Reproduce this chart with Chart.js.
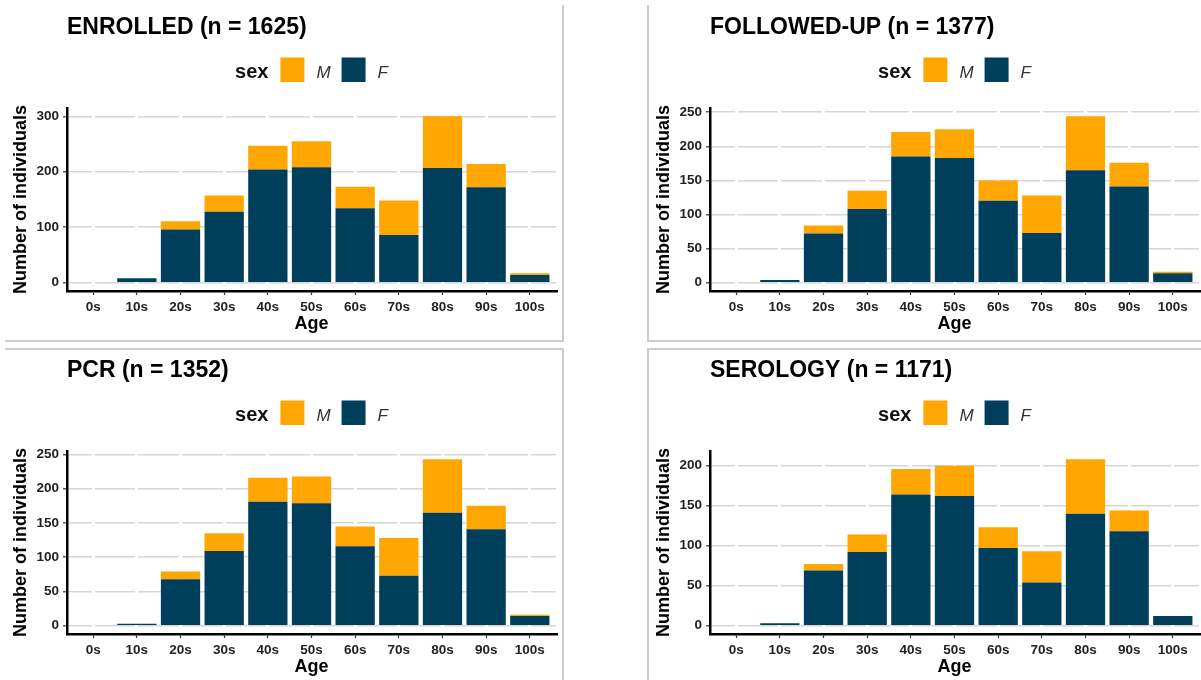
<!DOCTYPE html>
<html>
<head>
<meta charset="utf-8">
<script src="https://cdn.jsdelivr.net/npm/chart.js@4.4.0/dist/chart.umd.min.js"></script>
<style>
	body { margin: 0; background: #fff; width: 1201px; height: 680px; overflow: hidden; position: relative; }
	.frame { position: absolute; border: 0 solid #cbcbcb; }
	.panel { position: absolute; width: 563px; height: 342px; }
</style>
</head>
<body>
<div class="frame" style="left:5px;top:5px;width:557px;height:335px;border-right-width:2px;border-bottom-width:2px"></div>
<div class="frame" style="left:647px;top:5px;width:560px;height:335px;border-left-width:2px;border-bottom-width:2px"></div>
<div class="frame" style="left:5px;top:348px;width:557px;height:340px;border-right-width:2px;border-top-width:2px"></div>
<div class="frame" style="left:647px;top:348px;width:560px;height:340px;border-left-width:2px;border-top-width:2px"></div>

<div class="panel" style="left:0;top:0"><canvas id="enrolled"></canvas></div>
<div class="panel" style="left:643px;top:0"><canvas id="followed"></canvas></div>
<div class="panel" style="left:0;top:343px"><canvas id="pcr"></canvas></div>
<div class="panel" style="left:643px;top:343px"><canvas id="serology"></canvas></div>

<script>
var ageGroups = ['0s', '10s', '20s', '30s', '40s', '50s', '60s', '70s', '80s', '90s', '100s']

var enrolledF = [0, 8, 96, 128, 204, 208, 134, 86, 207, 172, 14]
var enrolledM = [0, 0, 15, 29, 43, 47, 39, 62, 93, 42, 3]
var followedF = [0, 4, 72, 108, 185, 183, 120, 73, 165, 141, 14]
var followedM = [0, 0, 12, 27, 36, 42, 30, 55, 79, 35, 2]
var pcrF = [0, 3, 68, 109, 181, 179, 116, 73, 165, 141, 14]
var pcrM = [0, 0, 11, 26, 35, 39, 29, 55, 78, 34, 2]
var serologyF = [0, 3, 69, 92, 164, 162, 97, 54, 140, 118, 12]
var serologyM = [0, 0, 8, 22, 32, 38, 26, 39, 68, 26, 0]

var enrolledTicks = [0, 100, 200, 300]
var followedTicks = [0, 50, 100, 150, 200, 250]
var pcrTicks = [0, 50, 100, 150, 200, 250]
var serologyTicks = [0, 50, 100, 150, 200]

var colorM = '#ffa600'
var colorF = '#003f5c'
var fontFamily = '"Liberation Sans", Arial, sans-serif'

// title and "sex" legend drawn in ggplot style above the panel
var panelText = {
	id: 'panelText',
	afterDraw: function (chart, args, opts) {
		var ctx = chart.ctx
		var area = chart.chartArea
		ctx.save()
		ctx.fillStyle = '#000'
		ctx.textBaseline = 'alphabetic'
		ctx.font = 'bold 23px ' + fontFamily
		ctx.fillText(opts.title, area.left, 33.5)

		var items = chart.data.datasets.slice().reverse()
		ctx.font = 'bold 20px ' + fontFamily
		var wSex = ctx.measureText('sex').width
		ctx.font = 'italic 17px ' + fontFamily
		var total = wSex + 12
		items.forEach(function (ds, i) {
			total += 24 + 12 + ctx.measureText(ds.label).width + (i < items.length - 1 ? 11 : 0)
		})
		var x = (area.left + area.right) / 2 - total / 2
		ctx.font = 'bold 20px ' + fontFamily
		ctx.fillStyle = '#111'
		ctx.fillText('sex', x, 77.5)
		x += wSex + 12
		ctx.font = 'italic 17px ' + fontFamily
		items.forEach(function (ds) {
			ctx.fillStyle = ds.backgroundColor
			ctx.fillRect(x, 57.5, 24, 24.5)
			x += 24 + 12
			ctx.fillStyle = '#333'
			ctx.fillText(ds.label, x, 77.5)
			x += ctx.measureText(ds.label).width + 11
		})
		ctx.restore()
	}
}

function initAgeChart(id, title, dataF, dataM, yTicks) {
	var totals = dataF.map(function (v, i) { return v + dataM[i] })
	var top = Math.max.apply(null, totals)
	var tickFont = { family: fontFamily, size: 13.5, weight: 'bold' }
	var titleFont = { family: fontFamily, size: 18, weight: 'bold' }

	return new Chart(document.getElementById(id), {
		type: 'bar',
		data: {
			labels: ageGroups.map(function (a, i) { return i }),
			datasets: [{
				label: 'F',
				data: dataF,
				backgroundColor: colorF,
				borderWidth: 0
			}, {
				label: 'M',
				data: dataM,
				backgroundColor: colorM,
				borderWidth: 0
			}]
		},
		options: {
			responsive: true,
			maintainAspectRatio: false,
			animation: false,
			categoryPercentage: 0.9,
			barPercentage: 1,
			layout: { padding: { top: 108, right: 7, bottom: 0, left: 0 } },
			plugins: {
				legend: { display: false },
				tooltip: { enabled: false },
				panelText: { title: title }
			},
			scales: {
				x: {
					type: 'linear',
					stacked: true,
					offset: false,
					bounds: 'data',
					min: -0.6,
					max: 10.6,
					afterBuildTicks: function (axis) {
						axis.ticks = ageGroups.map(function (a, i) { return { value: i } })
					},
					afterFit: function (scale) { scale.height = 51 },
					grid: { z: -1, color: '#fff', lineWidth: 3, offset: false, tickColor: '#333', tickLength: 4, tickWidth: 1.2 },
					border: { color: '#000', width: 2.5 },
					ticks: {
						autoSkip: false,
						maxRotation: 0,
						padding: 4,
						color: '#222',
						font: tickFont,
						callback: function (v) { return ageGroups[v] }
					},
					title: { display: true, text: 'Age', color: '#000', font: titleFont, padding: { top: 0, bottom: 7 } }
				},
				y: {
					stacked: true,
					bounds: 'data',
					min: -0.05 * top,
					max: 1.05 * top,
					afterBuildTicks: function (axis) {
						axis.ticks = yTicks.map(function (v) { return { value: v } })
					},
					afterFit: function (scale) { scale.width = 67 },
					grid: { z: -2, color: '#d6d6d6', lineWidth: 1.6, tickColor: '#333', tickLength: 4, tickWidth: 1.2 },
					border: { color: '#000', width: 2.5 },
					ticks: { padding: 4, color: '#222', font: tickFont },
					title: { display: true, text: 'Number of individuals', color: '#000', font: titleFont, padding: { top: 10, bottom: 0 } }
				}
			}
		},
		plugins: [panelText]
	})
}

initAgeChart('enrolled', 'ENROLLED (n = 1625)', enrolledF, enrolledM, enrolledTicks)
initAgeChart('followed', 'FOLLOWED-UP (n = 1377)', followedF, followedM, followedTicks)
initAgeChart('pcr', 'PCR (n = 1352)', pcrF, pcrM, pcrTicks)
initAgeChart('serology', 'SEROLOGY (n = 1171)', serologyF, serologyM, serologyTicks)
</script>
</body>
</html>
